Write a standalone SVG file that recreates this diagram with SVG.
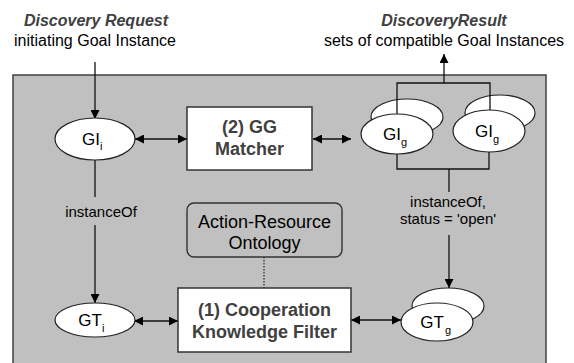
<svg xmlns="http://www.w3.org/2000/svg" width="574" height="363" viewBox="0 0 574 363">
<style>
text{font-family:"Liberation Sans",Arial,sans-serif;fill:#000}
.hd{font-size:16px;font-weight:bold;font-style:italic;fill:#404040}
.sub{font-size:16px}
.bx{fill:#fff;stroke:#333;stroke-width:1.5}
.bl{font-size:18px;font-weight:bold;fill:#404040}
.el{fill:#fff;stroke:#222;stroke-width:1.2}
.lb{font-size:15px}
.nd{font-size:17px}
.sm{font-size:11px}
.ln{fill:none;stroke:#111;stroke-width:1.3}
</style>
<defs>
<marker id="ah" viewBox="0 0 10 10" refX="10" refY="5" markerWidth="9" markerHeight="9" markerUnits="userSpaceOnUse" orient="auto-start-reverse">
<path d="M0,0 L10,5 L0,10 Z" fill="#000"/>
</marker>
</defs>
<rect x="13" y="75" width="533" height="300" fill="#c0c0c0" stroke="#404040" stroke-width="1.5"/>
<g id="labels">
<text class="hd" x="96" y="26" text-anchor="middle">Discovery Request</text>
<text class="sub" x="95" y="46" text-anchor="middle">initiating Goal Instance</text>
<text class="hd" x="444" y="26" text-anchor="middle">DiscoveryResult</text>
<text class="sub" x="444" y="46" text-anchor="middle">sets of compatible Goal Instances</text>
</g>
<g id="connectors">
<line class="ln" x1="95" y1="62" x2="95" y2="119" marker-end="url(#ah)"/>
<line class="ln" x1="135" y1="139" x2="187" y2="139" marker-start="url(#ah)" marker-end="url(#ah)"/>
<line class="ln" x1="313" y1="139" x2="351" y2="139" marker-start="url(#ah)" marker-end="url(#ah)"/>
<line class="ln" x1="95" y1="160" x2="95" y2="197"/>
<line class="ln" x1="95" y1="225" x2="95" y2="303" marker-end="url(#ah)"/>
<line class="ln" x1="134" y1="321" x2="178" y2="321" marker-start="url(#ah)" marker-end="url(#ah)"/>
<line class="ln" x1="351" y1="320" x2="401" y2="320" marker-start="url(#ah)" marker-end="url(#ah)"/>
<line x1="264" y1="257" x2="264" y2="288" stroke="#222" stroke-width="1.2" stroke-dasharray="1.5,1.5"/>
<polyline class="ln" points="397,154 397,169 489,169 489,151"/>
<line class="ln" x1="449" y1="169" x2="449" y2="192"/>
<line class="ln" x1="449" y1="235" x2="449" y2="288" marker-end="url(#ah)"/>
<text class="lb" x="101" y="217" text-anchor="middle">instanceOf</text>
<text class="lb" x="448" y="207" text-anchor="middle">instanceOf,</text>
<text class="lb" x="448" y="224" text-anchor="middle">status = 'open'</text>
</g>
<g id="result-bracket">
<polyline class="ln" points="397,114 397,83 490,83 490,110"/>
<line class="ln" x1="444" y1="83" x2="444" y2="54" marker-end="url(#ah)"/>
</g>
<g id="GIi">
<ellipse class="el" cx="95" cy="139" rx="40" ry="21"/>
<text class="nd" x="91" y="145" text-anchor="middle">GI</text>
<text class="sm" x="100" y="150">i</text>
</g>
<g id="GGMatcher">
<rect class="bx" x="187" y="107" width="125" height="63"/>
<text class="bl" x="249.5" y="133" text-anchor="middle">(2) GG</text>
<text class="bl" x="249.5" y="155" text-anchor="middle">Matcher</text>
</g>
<g id="GIg1">
<ellipse class="el" cx="407" cy="117" rx="36" ry="18"/>
<line class="ln" x1="397" y1="99" x2="397" y2="114"/>
<ellipse class="el" cx="397" cy="134" rx="36" ry="20"/>
<text class="nd" x="392" y="140" text-anchor="middle">GI</text>
<text class="sm" x="401" y="146">g</text>
</g>
<g id="GIg2">
<ellipse class="el" cx="500" cy="113" rx="35" ry="18"/>
<line class="ln" x1="490" y1="95" x2="490" y2="110"/>
<ellipse class="el" cx="489" cy="131" rx="36" ry="21"/>
<text class="nd" x="484" y="137" text-anchor="middle">GI</text>
<text class="sm" x="493" y="143">g</text>
</g>
<g id="Ontology">
<rect x="187" y="203" width="155" height="54" rx="7" fill="#c0c0c0" stroke="#333" stroke-width="1.4"/>
<text x="264.5" y="228" text-anchor="middle" font-size="18">Action-Resource</text>
<text x="264.5" y="249" text-anchor="middle" font-size="18">Ontology</text>
</g>
<g id="GTi">
<ellipse class="el" cx="95" cy="320" rx="40" ry="17"/>
<text class="nd" x="90" y="326" text-anchor="middle">GT</text>
<text class="sm" x="102" y="332">i</text>
</g>
<g id="Coop">
<rect class="bx" x="178" y="288" width="173" height="64"/>
<text class="bl" x="264.5" y="316" text-anchor="middle">(1) Cooperation</text>
<text class="bl" x="264.5" y="338" text-anchor="middle">Knowledge Filter</text>
</g>
<g id="GTg">
<ellipse class="el" cx="448" cy="306" rx="36" ry="18"/>
<ellipse class="el" cx="437" cy="322" rx="36" ry="19"/>
<text class="nd" x="432" y="328" text-anchor="middle">GT</text>
<text class="sm" x="445" y="334">g</text>
</g>
</svg>
